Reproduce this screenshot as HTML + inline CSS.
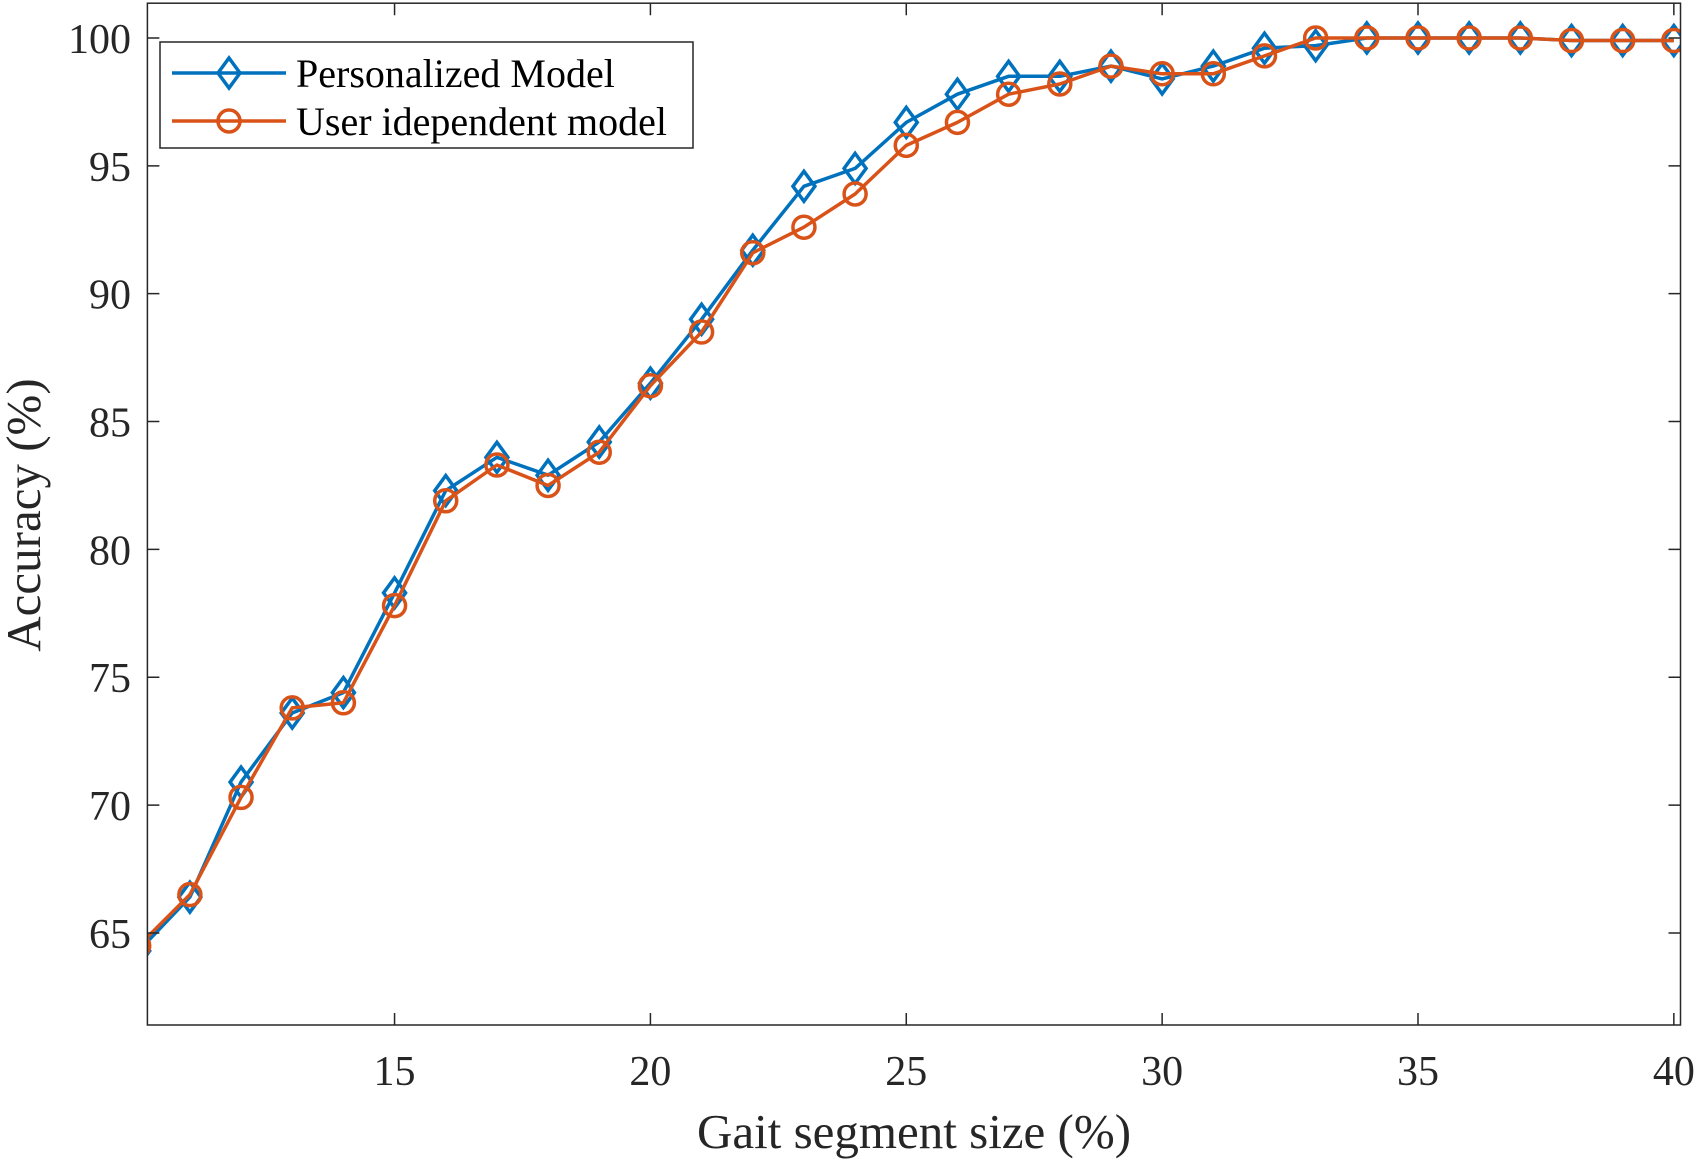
<!DOCTYPE html>
<html><head><meta charset="utf-8"><style>
html,body{margin:0;padding:0;background:#fff;}
svg{display:block;font-family:"Liberation Serif",serif;}
</style></head><body>
<svg id="chart" width="1699" height="1160" viewBox="0 0 1699 1160">
<defs><clipPath id="clip"><rect x="147.4" y="3.2" width="1533.1" height="1021.8"/></clipPath></defs>
<g id="grid"></g>
<g id="series" clip-path="url(#clip)"></g>
<g id="axes"></g>
</svg>
<script>
const categories=[10,11,12,13,14,15,16,17,18,19,20,21,22,23,24,25,26,27,28,29,30,31,32,33,34,35,36,37,38,39,40];
const personalized=[64.3,66.4,70.9,73.6,74.4,78.3,82.3,83.6,82.9,84.2,86.5,89.0,91.7,94.2,94.9,96.7,97.8,98.5,98.5,98.9,98.4,98.9,99.6,99.7,100,100,100,100,99.9,99.9,99.9];
const userIndependent=[64.5,66.5,70.3,73.8,74.0,77.8,81.9,83.3,82.5,83.8,86.4,88.5,91.6,92.6,93.9,95.8,96.7,97.8,98.2,98.9,98.6,98.6,99.3,100,100,100,100,100,99.9,99.9,99.9];
const xTicks=[15,20,25,30,35,40];
const yTicks=[65,70,75,80,85,90,95,100];
const xMin=10.17,xMax=40.13,yMin=61.4,yMax=101.36;
const L=147.4,R=1680.5,T=3.2,B=1025;
const NS="http://www.w3.org/2000/svg";
function X(v){return L+(v-xMin)/(xMax-xMin)*(R-L);}
function Y(v){return B-(v-yMin)/(yMax-yMin)*(B-T);}
function mk(tag,attrs,parent){const e=document.createElementNS(NS,tag);for(const k in attrs)e.setAttribute(k,attrs[k]);parent.appendChild(e);return e;}
const axes=document.getElementById('axes'),series=document.getElementById('series');
const box=mk('rect',{x:L,y:T,width:R-L,height:B-T,fill:'none',stroke:'#262626','stroke-width':1.5},axes);


xTicks.forEach(t=>{
  const x=X(t);
  const tk=mk('path',{d:`M${x},${B}V${B-12}M${x},${T}V${T+12}`,stroke:'#262626','stroke-width':1.5},axes);
  
  
  const tx=mk('text',{x:x,y:1085,'text-anchor':'middle','font-size':42,fill:'#262626'},axes);
  tx.textContent=t;
  
  
});
yTicks.forEach(t=>{
  const y=Y(t);
  const tk=mk('path',{d:`M${L},${y}H${L+12}M${R},${y}H${R-12}`,stroke:'#262626','stroke-width':1.5},axes);
  
  
  const tx=mk('text',{x:131,y:y+15,'text-anchor':'end','font-size':42,fill:'#262626'},axes);
  tx.textContent=t;
  
  
});
const xl=mk('text',{x:914,y:1148,'text-anchor':'middle','font-size':49,fill:'#262626'},axes);
xl.textContent='Gait segment size (%)';


const yl=mk('text',{x:0,y:0,'text-anchor':'middle','font-size':49,fill:'#262626',transform:'translate(40,515) rotate(-90)'},axes);
yl.textContent='Accuracy (%)';


function diamond(g,x,y,c){return mk('path',{d:`M${x},${y-15}L${x+11},${y}L${x},${y+15}L${x-11},${y}Z`,fill:'none',stroke:c,'stroke-width':3.5},g);}
function circle(g,x,y,c){return mk('circle',{cx:x,cy:y,r:11,fill:'none',stroke:c,'stroke-width':3.5},g);}
function drawSeries(vals,color,name,marker){
  const g=mk('g',{},series);
  
  
  const d=vals.map((v,i)=>(i?'L':'M')+X(categories[i]).toFixed(1)+','+Y(v).toFixed(1)).join('');
  const ln=mk('path',{d:d,fill:'none',stroke:color,'stroke-width':3.5,'stroke-linejoin':'round'},g);
  
  
  vals.forEach((v,i)=>{
    const m=marker(g,X(categories[i]),Y(v),color);
    
    
  });
}
drawSeries(personalized,'#0072BD','personalized-series',diamond);
drawSeries(userIndependent,'#D95319','user-independent-series',circle);
const lg=mk('g',{},axes);


mk('rect',{x:160,y:42,width:533,height:106,fill:'#fff',stroke:'#262626','stroke-width':1.5},lg);
const e1=mk('g',{},lg);


mk('path',{d:'M172,73H286',stroke:'#0072BD','stroke-width':3.5},e1);
diamond(e1,229,73,'#0072BD');
const t1=mk('text',{x:296,y:87,'font-size':40,fill:'#000'},e1);t1.textContent='Personalized Model';
const e2=mk('g',{},lg);


mk('path',{d:'M172,121H286',stroke:'#D95319','stroke-width':3.5},e2);
circle(e2,229,121,'#D95319');
const t2=mk('text',{x:296,y:135,'font-size':40,fill:'#000'},e2);t2.textContent='User idependent model';
</script>
</body></html>
